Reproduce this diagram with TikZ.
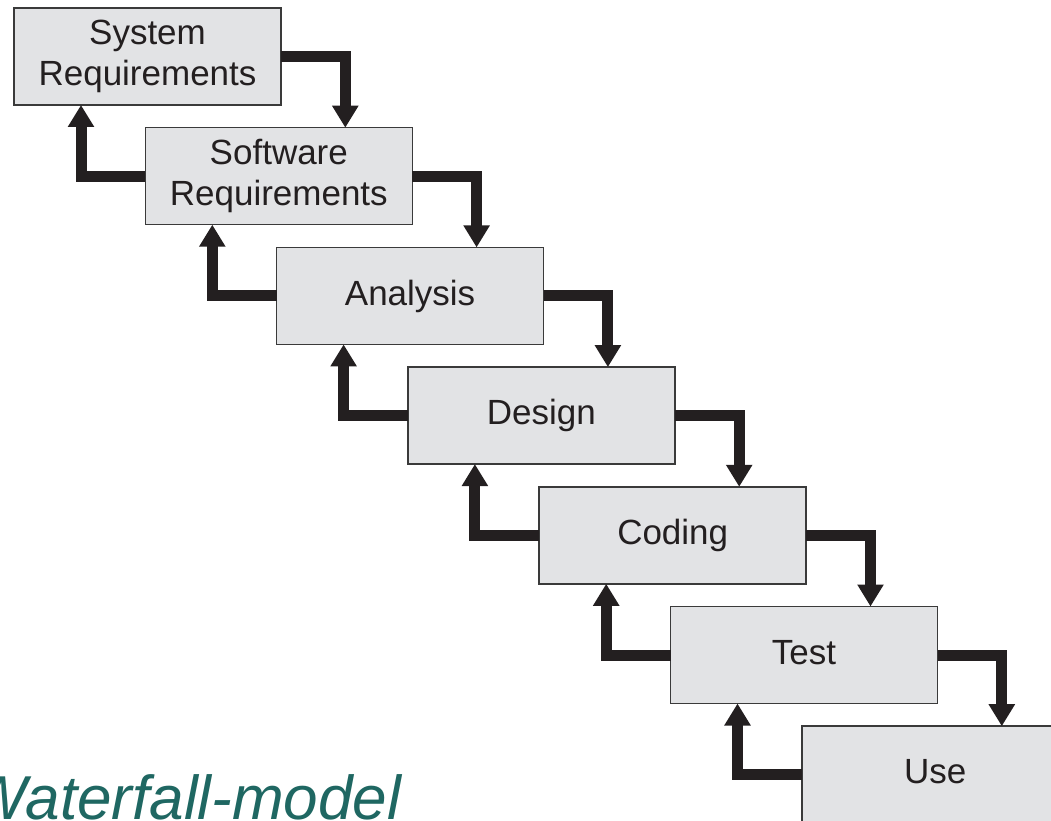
\documentclass[tikz,border=0pt]{standalone}
\usepackage{fontspec}
\setmainfont{Liberation Sans}
\usetikzlibrary{arrows.meta,calc}
\definecolor{boxfill}{HTML}{E2E3E5}
\definecolor{boxline}{HTML}{3A3A3A}
\definecolor{arrowcol}{HTML}{231F20}
\definecolor{txtcol}{HTML}{231F20}
\definecolor{titlecol}{HTML}{1F6762}
\begin{document}
\begin{tikzpicture}[x=1pt,y=-1pt,
  stagebox/.style={draw=boxline, line width=1.5pt, fill=boxfill, minimum width=267pt,
    minimum height=97pt, inner sep=0pt, outer sep=0pt, align=center, text=txtcol,
    font=\fontsize{35}{41.5}\selectfont},
  oneline/.style={text height=26pt, text depth=7.5pt},
  flow/.style={draw=arrowcol, line width=11pt, line join=miter,
    -{Triangle[width=25pt,length=22pt]}}
]
\useasboundingbox (0,0) rectangle (1051,821);
\clip (0,0) rectangle (1051,821);
\fill[white] (0,0) rectangle (1051,821);

\node[stagebox] (b1) at (147.5,56.5) {System\\Requirements};
\node[stagebox] (b2) at (278.8,176.2) {Software\\Requirements};
\node[stagebox,oneline] (b3) at (410.1,295.9) {Analysis};
\node[stagebox,oneline] (b4) at (541.4,415.6) {Design};
\node[stagebox,oneline] (b5) at (672.7,535.3) {Coding};
\node[stagebox,oneline] (b6) at (804.0,655.0) {Test};
\node[stagebox,oneline] (b7) at (935.3,774.7) {Use};

\foreach \a/\b in {b1/b2,b2/b3,b3/b4,b4/b5,b5/b6,b6/b7}{
  \draw[flow] (\a.east) -| ([xshift=66.5pt]\b.north);
  \draw[flow] (\b.west) -| ([xshift=-66.5pt]\a.south);
}

\node[anchor=base west, text=titlecol, inner sep=0pt,
  font=\fontsize{62}{70}\selectfont\itshape] (title) at (-32,819) {Waterfall-model};
\end{tikzpicture}
\end{document}
